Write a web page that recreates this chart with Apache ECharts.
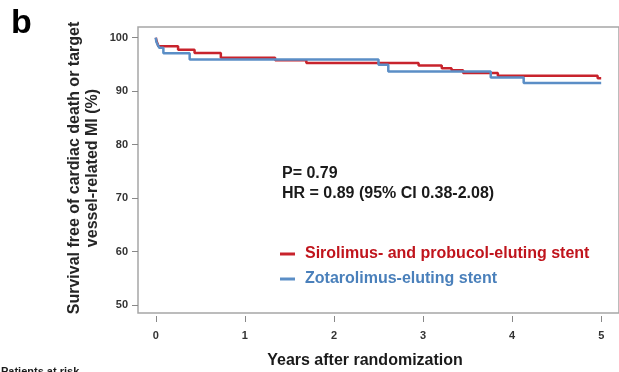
<!DOCTYPE html>
<html>
<head>
<meta charset="utf-8">
<script src="https://cdn.jsdelivr.net/npm/echarts@6/dist/echarts.min.js"></script>
<style>
  html, body { margin: 0; padding: 0; background: #fff; }
  #chart { width: 619px; height: 372px; }
</style>
</head>
<body>
<div id="chart"></div>
<script>
// Kaplan-Meier steps (years, % free of event)
var redName = 'Sirolimus- and probucol-eluting stent';
var blueName = 'Zotarolimus-eluting stent';
var redT = [0, 0.01, 0.03, 0.25, 0.435, 0.73, 1.34, 1.69, 2.95, 3.21, 3.32, 3.45, 3.84, 4.96, 5.0];
var redS = [100, 99.3, 98.4, 97.75, 97.13, 96.25, 95.8, 95.26, 94.8, 94.3, 93.9, 93.4, 92.9, 92.4, 92.4];
var blueT = [0, 0.005, 0.02, 0.04, 0.085, 0.38, 2.5, 2.61, 3.76, 4.13, 5.0];
var blueS = [100, 99.3, 98.7, 98.1, 97.1, 95.9, 94.94, 93.69, 92.57, 91.52, 91.52];
var xTicks = [0, 1, 2, 3, 4, 5];
var yTicks = [50, 60, 70, 80, 90, 100];

var FONT = "'Liberation Sans', Arial, sans-serif";

function pairs(t, s) {
    var out = [];
    for (var i = 0; i < t.length; i++) out.push([t[i], s[i]]);
    return out;
}

var myChart = echarts.init(document.getElementById('chart'));

option = {
    animation: false,
    textStyle: { fontFamily: FONT },
    grid: {
        left: 138,
        top: 27,
        right: -6,
        bottom: 59,
        show: true,
        borderColor: '#a6a6a6',
        borderWidth: 1.5
    },
    xAxis: {
        type: 'value',
        min: -0.2,
        max: 5.2,
        offset: 3,
        axisLine: { show: false, onZero: false },
        axisTick: { show: true, length: 6, customValues: xTicks, lineStyle: { color: '#888' } },
        axisLabel: {
            customValues: xTicks,
            margin: 14,
            color: '#333',
            fontSize: 11,
            fontWeight: 'bold'
        },
        splitLine: { show: false }
    },
    yAxis: {
        type: 'value',
        min: 48.5,
        max: 102,
        axisLine: { show: false, onZero: false },
        axisTick: { show: true, length: 6, customValues: yTicks, lineStyle: { color: '#888' } },
        axisLabel: {
            customValues: yTicks,
            margin: 10,
            color: '#333',
            fontSize: 11,
            fontWeight: 'bold'
        },
        splitLine: { show: false }
    },
    legend: {
        orient: 'vertical',
        left: 280,
        top: 245,
        padding: 0,
        itemGap: 7,
        icon: 'rect',
        itemWidth: 15,
        itemHeight: 3,
        textStyle: { fontSize: 16, fontWeight: 'bold', lineHeight: 18, padding: [0, 0, 0, 5] },
        data: [
            { name: redName, textStyle: { color: '#c0141c' } },
            { name: blueName, textStyle: { color: '#4a80bb' } }
        ]
    },
    graphic: [
        {
            type: 'text', left: 11, top: 7,
            style: { text: 'b', font: 'bold 34px ' + FONT, fill: '#000' }
        },
        {
            type: 'text', x: 83.5, y: 168, rotation: Math.PI / 2,
            style: {
                text: 'Survival free of cardiac death or target\nvessel-related MI (%)',
                font: 'bold 16px ' + FONT, lineHeight: 18, fill: '#262626',
                align: 'center', verticalAlign: 'middle'
            }
        },
        {
            type: 'text', x: 365, y: 361,
            style: {
                text: 'Years after randomization',
                font: 'bold 16px ' + FONT, fill: '#1a1a1a',
                align: 'center', verticalAlign: 'middle'
            }
        },
        {
            type: 'text', left: 282, top: 164,
            style: {
                text: 'P= 0.79\nHR = 0.89 (95% CI 0.38-2.08)',
                font: 'bold 16px ' + FONT, lineHeight: 20, fill: '#1a1a1a'
            }
        },
        {
            type: 'text', left: 1, top: 366,
            style: { text: 'Patients at risk', font: 'bold 11px ' + FONT, fill: '#1a1a1a' }
        }
    ],
    series: [
        {
            name: redName,
            type: 'line',
            step: 'end',
            showSymbol: false,
            color: '#c8232c',
            lineStyle: { width: 2.5 },
            data: pairs(redT, redS)
        },
        {
            name: blueName,
            type: 'line',
            step: 'end',
            showSymbol: false,
            color: '#5b8ec6',
            lineStyle: { width: 2.5 },
            data: pairs(blueT, blueS)
        }
    ]
};

myChart.setOption(option);
window.addEventListener("resize", function () {
    myChart.resize();
});
</script>
</body>
</html>
